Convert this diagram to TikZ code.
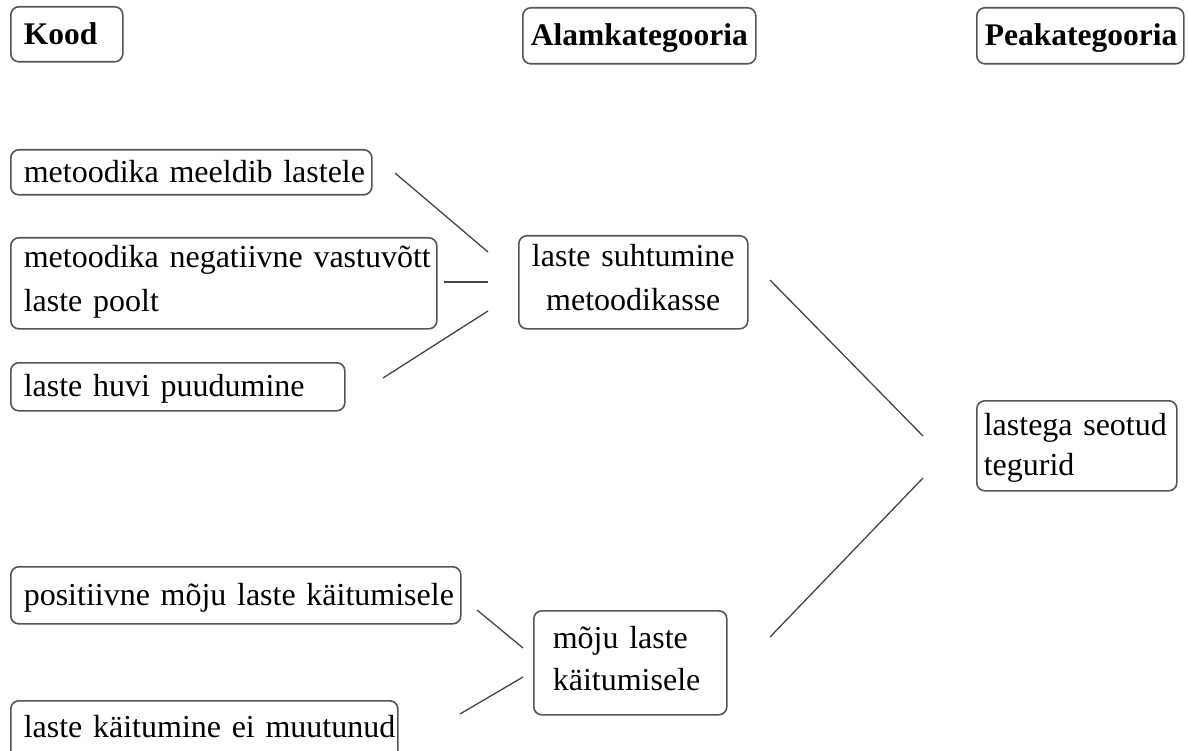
\documentclass[tikz,border=0pt]{standalone}
\usepackage{fontspec}
\setmainfont{Liberation Serif}
\definecolor{boxgray}{HTML}{555555}
\definecolor{linegray}{HTML}{444444}
\begin{document}
\begin{tikzpicture}[x=1pt,y=-1pt,
  box/.style={draw=boxgray, line width=1.6pt, rounded corners=8pt, anchor=north west,
    inner ysep=0pt, align=left, text height=22pt, font=\fontsize{32}{44}\selectfont},
  hdr/.style={box, text depth=2pt, font=\fontsize{31.5}{40}\bfseries\selectfont},
  conn/.style={draw=linegray, line width=1.3pt}]
\useasboundingbox (0,0) rectangle (1188,751);

% headers
\node[hdr, minimum width=112pt, minimum height=55pt, inner xsep=13pt, text width=86pt] (hkood) at (10,6) {Kood};
\node[hdr, align=center, minimum width=233pt, minimum height=56pt, inner xsep=8pt, text width=217pt] (halam) at (522,7) {\mbox{Alamkategooria}};
\node[hdr, minimum width=207pt, minimum height=56pt, inner xsep=8pt, text width=191pt] (hpea) at (976,7) {\mbox{Peakategooria}};

% codes
\node[box, minimum width=361pt, minimum height=45pt, inner xsep=13pt, text width=335pt, text depth=2pt] (k1) at (10,149) {\mbox{metoodika meeldib lastele}};
\node[box, minimum width=426pt, minimum height=91pt, inner xsep=13pt, text width=400pt, text depth=53pt] (k2) at (10,237) {\mbox{metoodika negatiivne vastuvõtt}\\laste poolt};
\node[box, minimum width=334pt, minimum height=48pt, inner xsep=13pt, text width=308pt, text depth=3pt] (k3) at (10,362) {\mbox{laste huvi puudumine}};
\node[box, minimum width=450pt, minimum height=57pt, inner xsep=13pt, text width=424pt, text depth=1pt] (k4) at (10,566) {\mbox{positiivne mõju laste käitumisele}};
\node[box, minimum width=387pt, minimum height=58pt, inner xsep=13pt, text width=361pt, text depth=6pt] (k5) at (10,700) {\mbox{laste käitumine ei muutunud}};

% subcategories
\node[box, align=center, minimum width=229pt, minimum height=93pt, inner xsep=8pt, text width=213pt, text depth=53pt] (a1) at (518,235) {\mbox{laste suhtumine}\\metoodikasse};
\node[box, minimum width=193pt, minimum height=104pt, inner xsep=19pt, text width=155pt, text depth=50pt, font=\fontsize{32}{42}\selectfont] (a2) at (533,610) {mõju laste\\käitumisele};

% main category
\node[box, minimum width=200pt, minimum height=90pt, inner xsep=7pt, text width=186pt, text depth=42pt, font=\fontsize{32}{40}\selectfont] (p1) at (976,400) {\mbox{lastega seotud}\\tegurid};

% connector ends
\coordinate (k1e) at (395,173);
\coordinate (a1w1) at (488,252);
\coordinate (k2e) at (444,282);
\coordinate (a1w2) at (488,282);
\coordinate (k3e) at (383,378);
\coordinate (a1w3) at (488,311);
\coordinate (a1e) at (770,280);
\coordinate (p1w1) at (923,436);
\coordinate (k4e) at (477,610);
\coordinate (a2w1) at (523,648);
\coordinate (k5e) at (460,714);
\coordinate (a2w2) at (523,677);
\coordinate (a2e) at (770,637);
\coordinate (p1w2) at (923,478);

\draw[conn] (k1e) -- (a1w1);
\draw[conn] (k2e) -- (a1w2);
\draw[conn] (k3e) -- (a1w3);
\draw[conn] (a1e) -- (p1w1);
\draw[conn] (k4e) -- (a2w1);
\draw[conn] (k5e) -- (a2w2);
\draw[conn] (a2e) -- (p1w2);
\end{tikzpicture}
\end{document}
